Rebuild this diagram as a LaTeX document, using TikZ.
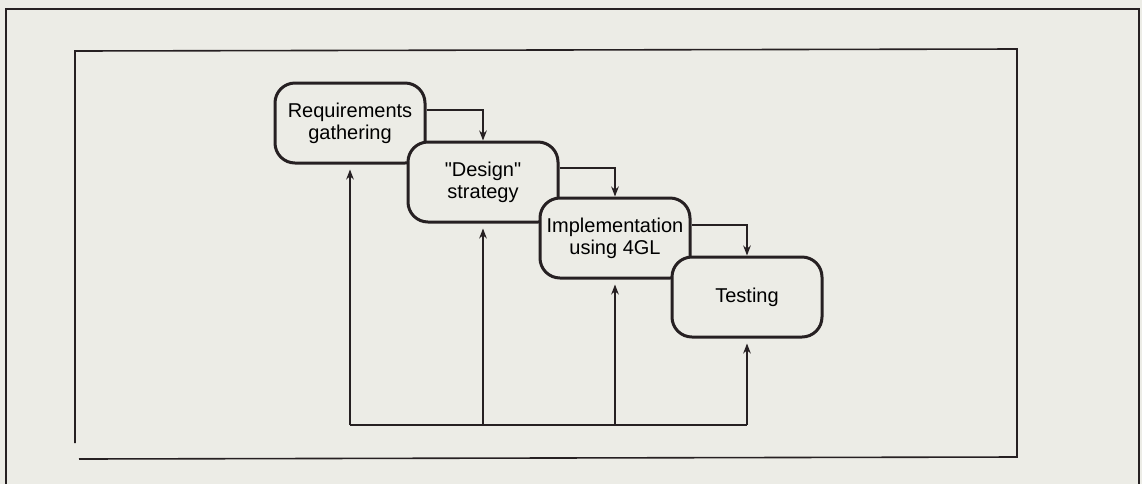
\documentclass[tikz,border=0pt]{standalone}
\usepackage{fontspec}
\setmainfont{Liberation Sans}
\usetikzlibrary{arrows.meta}
\definecolor{paper}{RGB}{236,236,230}
\definecolor{ink}{RGB}{38,32,34}
\begin{document}
\begin{tikzpicture}[x=0.5pt,y=-0.5pt,
  stage/.style={draw=ink, line width=1.5pt, rounded corners=10pt, fill=paper,
    minimum width=75pt, minimum height=40pt, inner sep=0pt, align=center,
    font=\fontsize{10pt}{11pt}\selectfont, text=black},
  frame/.style={draw=ink, line width=0.9pt},
  link/.style={draw=ink, line width=1.2pt},
  arr/.style={link, -{Stealth[length=5pt,width=3.8pt]}}]
\fill[paper] (0,0) rectangle (1142,484);
\useasboundingbox (0,0) rectangle (1142,484);
% frames
\draw[frame] (6,484) -- (6,9) -- (1139,9) -- (1139,484);
\draw[frame, line width=0.8pt] (75,443) -- (75,51) -- (1017,49) -- (1017,457) -- (79,459);
% stages
\node[stage] (b1) at (350,123) {Requirements\\gathering};
\node[stage] (b2) at (483,182) {\textquotedbl Design\textquotedbl\\strategy};
\node[stage] (b3) at (615,238) {Implementation\\using 4GL};
\node[stage] (b4) at (747,297) {Testing};
% forward links
\draw[arr] ([yshift=6.5pt]b1.east) -| (b2.north);
\draw[arr] ([yshift=7pt]b2.east) -| (b3.north);
\draw[arr] ([yshift=6.5pt]b3.east) -| (b4.north);
% feedback
\coordinate (f1) at (350,425);
\coordinate (f2) at (483,425);
\coordinate (f3) at (615,425);
\coordinate (f4) at (747,425);
\draw[link, line width=1.4pt] (f1) -- (f4);
\draw[arr] (f1) -- ([yshift=-2.5pt]b1.south);
\draw[arr] (f2) -- ([yshift=-2.5pt]b2.south);
\draw[arr] (f3) -- ([yshift=-2.5pt]b3.south);
\draw[arr] (f4) -- ([yshift=-2.5pt]b4.south);
\end{tikzpicture}
\end{document}
